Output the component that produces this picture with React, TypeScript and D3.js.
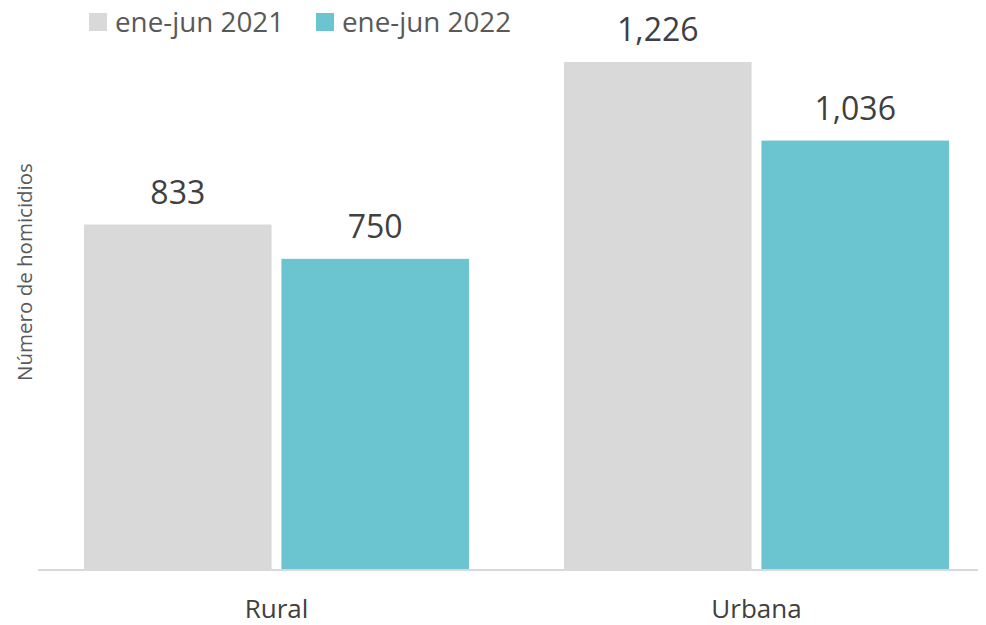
import React, { useRef, useEffect } from 'react';
import * as d3 from 'd3';

const categories = ['Rural', 'Urbana'];
const series = ['ene-jun 2021', 'ene-jun 2022'];
const values2021 = [833, 1226];
const values2022 = [750, 1036];
const colors = ['#d9d9d9', '#6bc5d0'];

const App: React.FC = () => {
	const svgRef = useRef<SVGSVGElement | null>(null);

	useEffect(() => {
		if (!svgRef.current) return;
		const width = 986;
		const height = 625;
		const font = '"Open Sans", sans-serif';

		const svg = d3.select(svgRef.current)
			.attr('width', width)
			.attr('height', height);
		svg.selectAll('*').remove();

		const baseline = 569;
		const valueSets = [values2021, values2022];

		// Scales
		const x0 = d3.scaleBand<string>()
			.domain(categories)
			.range([36.5, 996.5])
			.paddingInner(0.198)
			.paddingOuter(0.099);
		const x1 = d3.scaleBand<string>()
			.domain(series)
			.range([0, x0.bandwidth()])
			.paddingInner(0.05);
		const y = d3.scaleLinear()
			.domain([0, 1226])
			.range([baseline, 62]);

		// Bars
		const g = svg.append('g');
		categories.forEach((c, ci) => {
			series.forEach((s, si) => {
				const v = valueSets[si][ci];
				const bx = x0(c)! + x1(s)!;
				g.append('rect')
					.attr('x', bx)
					.attr('y', y(v))
					.attr('width', x1.bandwidth())
					.attr('height', baseline - y(v))
					.attr('fill', colors[si]);
				g.append('text')
					.attr('x', bx + x1.bandwidth() / 2)
					.attr('y', y(v) - 21)
					.attr('text-anchor', 'middle')
					.attr('font-family', font)
					.attr('font-size', 32)
					.attr('fill', '#404040')
					.text(d3.format(',')(v));
			});
		});

		// Axis line
		svg.append('line')
			.attr('x1', 38).attr('x2', 978)
			.attr('y1', baseline + 1).attr('y2', baseline + 1)
			.attr('stroke', '#d9d9d9')
			.attr('stroke-width', 2);

		// Category labels
		svg.append('g')
			.selectAll('text')
			.data(categories)
			.join('text')
			.attr('x', d => x0(d)! + x0.bandwidth() / 2)
			.attr('y', 618)
			.attr('text-anchor', 'middle')
			.attr('font-family', font)
			.attr('font-size', 26)
			.attr('fill', '#404040')
			.text(d => d);

		// Y title
		svg.append('text')
			.attr('transform', `translate(32,272) rotate(-90)`)
			.attr('text-anchor', 'middle')
			.attr('font-family', font)
			.attr('font-size', 20.5)
			.attr('fill', '#595959')
			.text('Número de homicidios');

		// Legend
		const legendX = [89, 316];
		series.forEach((s, i) => {
			svg.append('rect')
				.attr('x', legendX[i])
				.attr('y', 13)
				.attr('width', 18)
				.attr('height', 18)
				.attr('fill', colors[i]);
			svg.append('text')
				.attr('x', legendX[i] + 26)
				.attr('y', 32)
				.attr('font-family', font)
				.attr('font-size', 27.8)
				.attr('fill', '#595959')
				.text(s);
		});
	}, []);

	return (
		<svg ref={svgRef} style={{ position: 'absolute', left: 0, top: 0 }} />
	);
};

export default App;
